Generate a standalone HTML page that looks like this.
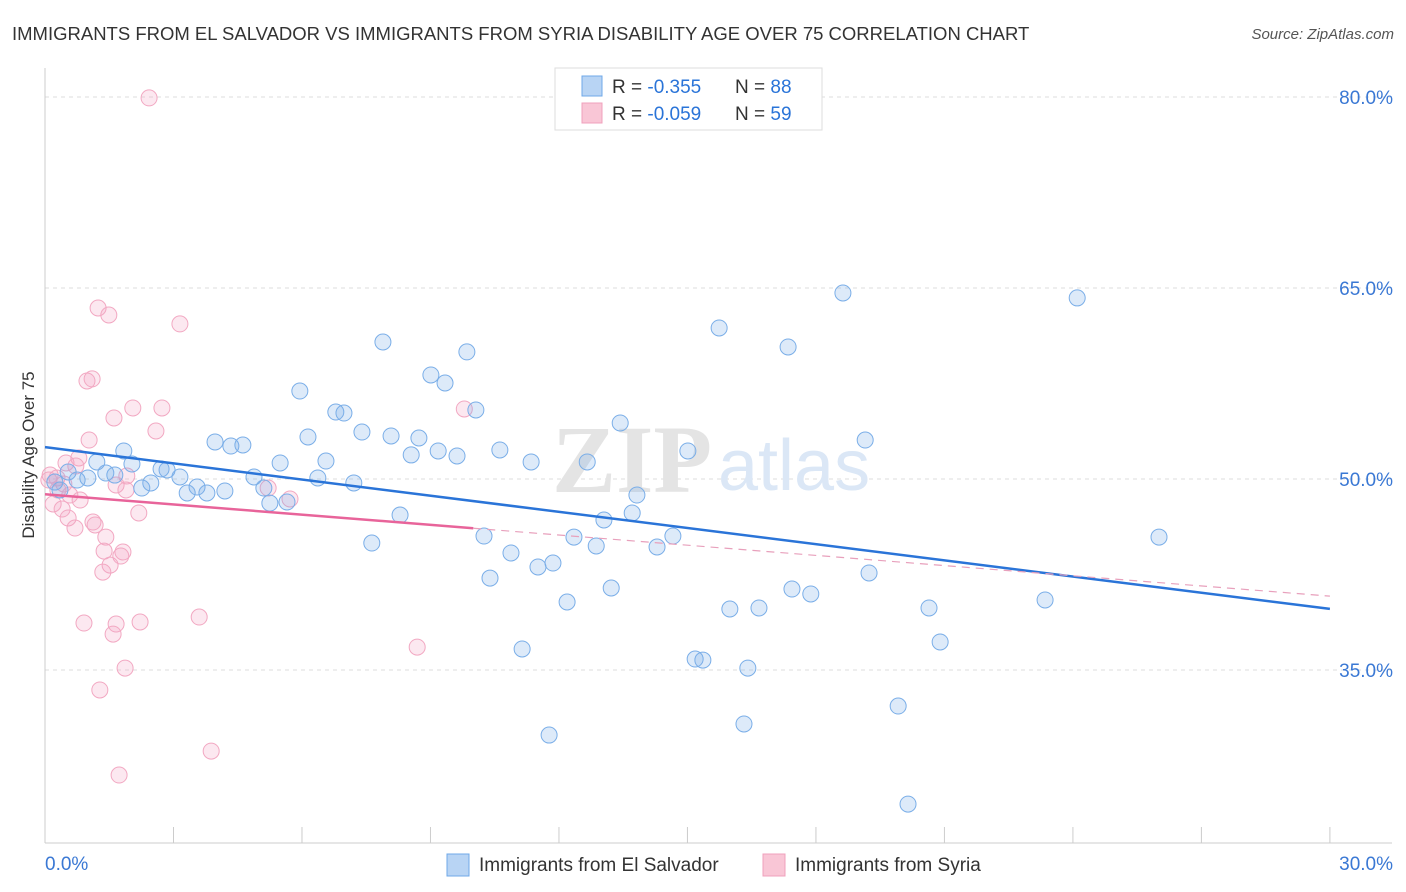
<!DOCTYPE html>
<html><head><meta charset="utf-8">
<style>
body{margin:0;background:#fff;font-family:"Liberation Sans",sans-serif;}
svg{display:block}
</style></head>
<body>
<svg width="1406" height="892" viewBox="0 0 1406 892" font-family="Liberation Sans, sans-serif">
<text x="12" y="40" font-size="18.5" fill="#333">IMMIGRANTS FROM EL SALVADOR VS IMMIGRANTS FROM SYRIA DISABILITY AGE OVER 75 CORRELATION CHART</text>
<text x="1394" y="39" font-size="15" fill="#555" text-anchor="end" font-style="italic">Source: ZipAtlas.com</text>
<g id="grid"></g>
<g id="axes"></g>
<text x="712" y="492" font-size="96" fill="#e4e4e4" font-weight="bold" text-anchor="end" font-family="Liberation Serif, serif">ZIP</text>
<text x="718" y="490" font-size="72" fill="#dbe7f6">atlas</text>
<g id="pts"></g>
<g id="lines"></g>
<text x="34" y="455" font-size="17" fill="#333" text-anchor="middle" transform="rotate(-90 34 455)">Disability Age Over 75</text>
<g>
<rect x="555" y="68" width="267" height="62" fill="#fff" stroke="#ddd"/>
<rect x="582" y="76" width="20" height="20" fill="#b8d4f4" stroke="#6fa8e8"/>
<rect x="582" y="103" width="20" height="20" fill="#f9c6d6" stroke="#f0a0bc"/>
<text x="612" y="93" font-size="19" fill="#333">R = <tspan fill="#2a74d8">-0.355</tspan></text>
<text x="735" y="93" font-size="19" fill="#333">N = <tspan fill="#2a74d8">88</tspan></text>
<text x="612" y="120" font-size="19" fill="#333">R = <tspan fill="#2a74d8">-0.059</tspan></text>
<text x="735" y="120" font-size="19" fill="#333">N = <tspan fill="#2a74d8">59</tspan></text>
</g>
<g>
<rect x="447" y="854" width="22" height="22" fill="#b8d4f4" stroke="#6fa8e8"/>
<text x="479" y="871" font-size="19" fill="#333">Immigrants from El Salvador</text>
<rect x="763" y="854" width="22" height="22" fill="#f9c6d6" stroke="#f0a0bc"/>
<text x="795" y="871" font-size="19" fill="#333">Immigrants from Syria</text>
</g>
</svg>
<script>
const yTicks=[80,65,50,35];
const yTickLabels=["80.0%","65.0%","50.0%","35.0%"];
const xTicks=[0,3,6,9,12,15,18,21,24,27,30];
const xTickLabels=["0.0%","30.0%"];
const blueX=[18.63,24.10,15.74,17.35,7.89,9.85,9.01,9.34,5.95,10.06,6.79,6.98,13.43,7.40,8.08,8.73,6.14,3.97,4.34,4.62,19.15,1.84,9.18,8.55,9.62,10.62,15.01,6.56,5.49,11.35,12.66,2.03,1.21,0.54,1.42,1.63,2.85,2.71,3.15,4.88,6.37,7.21,0.75,1.00,0.23,0.35,2.47,2.26,3.55,3.32,3.78,4.20,5.11,13.82,5.25,5.65,8.29,13.05,13.71,10.25,12.35,14.66,12.87,7.63,14.29,10.88,11.86,11.51,19.24,10.39,26.01,13.22,17.44,17.88,12.19,15.99,16.67,20.64,23.35,20.90,11.14,15.18,15.36,16.41,19.92,16.32,11.77,20.15];
const blueY=[64.61,64.22,61.86,60.37,60.76,59.98,58.17,57.54,56.91,55.42,55.26,55.18,54.40,53.69,53.38,53.22,53.30,52.91,52.59,52.67,53.06,52.20,52.20,51.89,51.81,52.28,52.20,51.41,51.26,51.34,51.34,51.18,51.34,50.55,50.47,50.31,50.71,50.79,50.16,50.16,50.08,49.69,49.92,50.08,49.76,49.14,49.69,49.29,49.37,48.90,48.90,49.06,49.29,48.74,48.11,48.19,47.17,46.78,47.33,45.52,45.44,45.52,44.74,44.97,44.66,44.19,43.40,43.09,42.62,42.22,45.44,41.44,41.36,40.97,40.34,39.79,39.87,39.87,40.50,37.20,36.65,35.86,35.78,35.15,32.17,30.76,29.89,24.47];
const pinkX=[2.43,1.24,1.49,3.15,0.98,1.10,2.73,2.05,1.61,2.59,1.03,0.79,0.49,0.72,0.12,0.28,0.44,1.91,1.66,1.89,9.79,5.21,5.72,0.82,0.19,0.40,2.19,0.54,1.12,1.17,0.70,1.42,1.38,1.82,1.77,1.52,1.35,0.91,2.22,1.66,3.60,1.59,1.87,8.69,1.28,3.88,1.73,0.30,0.58,0.09];
const pinkY=[79.93,63.43,62.88,62.18,57.70,57.86,55.58,55.58,54.79,53.77,53.06,51.65,51.26,51.02,50.31,50.08,49.61,50.24,49.53,49.14,55.50,49.29,48.43,48.35,48.04,47.64,47.33,46.94,46.62,46.39,46.15,45.44,44.34,44.27,43.95,43.24,42.69,38.69,38.77,38.61,39.16,37.82,35.15,36.80,33.43,28.63,26.75,49.14,48.74,49.92];
const blueTrend=[52.5,39.8];
const pinkTrend=[48.8,40.8];
const pinkSolidEnd=10;

const X=v=>45+v*42.83, Y=v=>479-(v-50)*12.733;
const NS="http://www.w3.org/2000/svg";
function mk(tag,attrs,parent){const e=document.createElementNS(NS,tag);for(const k in attrs)e.setAttribute(k,attrs[k]);parent.appendChild(e);return e;}
const grid=document.getElementById('grid'),axes=document.getElementById('axes'),pts=document.getElementById('pts'),lines=document.getElementById('lines');
yTicks.forEach((t,i)=>{
 const l=mk('line',{x1:45,x2:1392,y1:Y(t),y2:Y(t),stroke:'#ddd','stroke-dasharray':'4,4'},grid);
 
 
 const tx=mk('text',{x:1393,y:Y(t)+7,'font-size':19,fill:'#3a78d4','text-anchor':'end'},axes);
 tx.textContent=yTickLabels[i];
 
 
});
const ax=mk('line',{x1:45,x2:1392,y1:843,y2:843,stroke:'#ccc'},axes);


const ay=mk('line',{x1:45,x2:45,y1:68,y2:843,stroke:'#ccc'},axes);


xTicks.forEach(t=>{
 const l=mk('line',{x1:X(t),x2:X(t),y1:827,y2:843,stroke:'#ccc'},axes);
 
 
});
const xl0=mk('text',{x:45,y:870,'font-size':19,fill:'#3a78d4'},axes);xl0.textContent=xTickLabels[0];


const xl1=mk('text',{x:1393,y:870,'font-size':19,fill:'#3a78d4','text-anchor':'end'},axes);xl1.textContent=xTickLabels[1];


pinkX.forEach((v,i)=>{
 const c=mk('circle',{cx:X(v),cy:Y(pinkY[i]),r:8,fill:'rgba(245,165,195,0.25)',stroke:'#f2a8c2','stroke-width':1},pts);
 
 
});
blueX.forEach((v,i)=>{
 const c=mk('circle',{cx:X(v),cy:Y(blueY[i]),r:8,fill:'rgba(120,170,232,0.25)',stroke:'#7aaee8','stroke-width':1},pts);
 
 
});
const bl=mk('line',{x1:X(0),y1:Y(blueTrend[0]),x2:X(30),y2:Y(blueTrend[1]),stroke:'#2a74d8','stroke-width':2.5},lines);


const pm=pinkTrend[0]+(pinkTrend[1]-pinkTrend[0])*pinkSolidEnd/30;
const pl=mk('line',{x1:X(0),y1:Y(pinkTrend[0]),x2:X(pinkSolidEnd),y2:Y(pm),stroke:'#e8649a','stroke-width':2.5},lines);


const pd=mk('line',{x1:X(pinkSolidEnd),y1:Y(pm),x2:X(30),y2:Y(pinkTrend[1]),stroke:'#e8a0bc','stroke-width':1.2,'stroke-dasharray':'8,6'},lines);


</script>
</body></html>
